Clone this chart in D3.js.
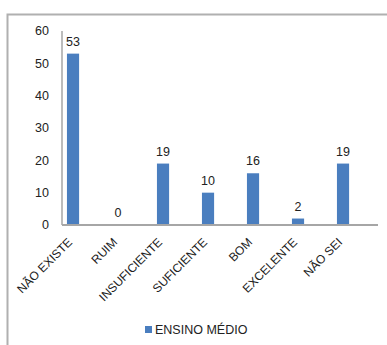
<!DOCTYPE html>
<html>
<head>
<meta charset="utf-8">
<script src="https://cdn.jsdelivr.net/npm/d3@7"></script>
<style>
  body { margin: 0; background: #fff; }
  svg { display: block; font-family: "Liberation Sans", Arial, sans-serif; }
</style>
</head>
<body>
<svg width="387" height="345"></svg>
<script>
const categories = ["NÃO EXISTE", "RUIM", "INSUFICIENTE", "SUFICIENTE", "BOM", "EXCELENTE", "NÃO SEI"];
const values = [53, 0, 19, 10, 16, 2, 19];
const seriesName = "ENSINO MÉDIO";
const yTicks = [0, 10, 20, 30, 40, 50, 60];

const data = categories.map((c, i) => ({ cat: c, value: values[i] }));

const svg = d3.select("svg");
const barColor = "#4a7ebf";
const axisColor = "#a6a6a6";

// chart border (only top and left visible)
svg.append("path")
  .attr("d", "M7.5,345 V14.5 H387")
  .attr("fill", "none")
  .attr("stroke", "#b0b0b0")
  .attr("stroke-width", 2);

const x = d3.scaleBand().domain(categories).range([62, 377]).padding(0);
const y = d3.scaleLinear().domain([0, 60]).range([225, 31]);

// y tick labels
svg.append("g")
  .selectAll("text")
  .data(yTicks)
  .join("text")
  .attr("x", 49)
  .attr("y", (d) => y(d))
  .attr("dy", "0.35em")
  .attr("text-anchor", "end")
  .attr("font-size", 12.5)
  .attr("fill", "#222")
  .text((d) => d);

// bars, sitting left of the band centre
const barW = x.bandwidth() * 0.27;
const barOff = x.bandwidth() * 0.11;
svg.append("g")
  .selectAll("rect")
  .data(data)
  .join("rect")
  .attr("x", (d) => x(d.cat) + barOff)
  .attr("y", (d) => y(d.value))
  .attr("width", barW)
  .attr("height", (d) => y(0) - y(d.value))
  .attr("fill", barColor);

// value labels
svg.append("g")
  .selectAll("text")
  .data(data)
  .join("text")
  .attr("x", (d) => x(d.cat) + barOff + barW / 2)
  .attr("y", (d) => y(d.value) - 8)
  .attr("text-anchor", "middle")
  .attr("font-size", 12.5)
  .attr("fill", "#222")
  .text((d) => d.value);

// axes lines
svg.append("line")
  .attr("x1", 62).attr("x2", 62)
  .attr("y1", y(60)).attr("y2", y(0))
  .attr("stroke", axisColor).attr("stroke-width", 1.5);
svg.append("line")
  .attr("x1", 62).attr("x2", 378)
  .attr("y1", y(0)).attr("y2", y(0))
  .attr("stroke", axisColor).attr("stroke-width", 2);

// rotated category labels
svg.append("g")
  .selectAll("text")
  .data(data)
  .join("text")
  .attr("transform", (d) => `translate(${x(d.cat) + barOff + barW / 2 - 3},${y(0) + 15}) rotate(-45)`)
  .attr("text-anchor", "end")
  .attr("dy", "0.35em")
  .attr("font-size", 12)
  .attr("fill", "#222")
  .text((d) => d.cat);

// legend
const legend = svg.append("g").attr("transform", "translate(145,326)");
legend.append("rect")
  .attr("width", 7).attr("height", 7)
  .attr("fill", barColor);
legend.append("text")
  .attr("x", 10)
  .attr("y", 3.5)
  .attr("dy", "0.35em")
  .attr("font-size", 12.5)
  .attr("fill", "#222")
  .text(seriesName);
</script>
</body>
</html>
